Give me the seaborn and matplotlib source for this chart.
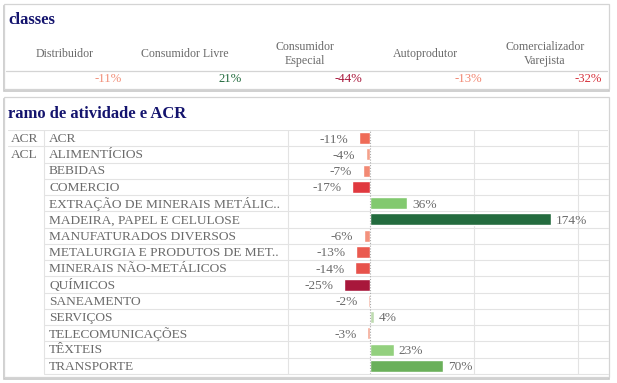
import matplotlib
matplotlib.use("Agg")
import matplotlib.pyplot as plt
import seaborn as sns
import pandas as pd
import numpy as np
from matplotlib.colors import LinearSegmentedColormap
from matplotlib.lines import Line2D
from matplotlib.patches import Rectangle

# ---------------- data ----------------
classes = ["Distribuidor", "Consumidor Livre", "Consumidor\nEspecial",
           "Autoprodutor", "Comercializador\nVarejista"]
classes_val = [-11, 21, -44, -13, -32]

grupos = ["ACR", "ACL", "", "", "", "", "", "", "", "", "", "", "", "", ""]
ramos = ["ACR", "ALIMENTÍCIOS", "BEBIDAS", "COMERCIO",
         "EXTRAÇÃO DE MINERAIS METÁLIC..", "MADEIRA, PAPEL E CELULOSE",
         "MANUFATURADOS DIVERSOS", "METALURGIA E PRODUTOS DE MET..",
         "MINERAIS NÃO-METÁLICOS", "QUÍMICOS", "SANEAMENTO", "SERVIÇOS",
         "TELECOMUNICAÇÕES", "TÊXTEIS", "TRANSPORTE"]
ramo_val = [-11, -4, -7, -17, 36, 174, -6, -13, -14, -25, -2, 4, -3, 23, 70]

# ---------------- styles ----------------
sns.set_theme(style="white")
plt.rcParams["font.family"] = ["Liberation Serif", "DejaVu Serif"]
TXT = "#6a6a6a"
TITLE = "#14146e"
GRID = "#e3e3e3"
BORDER = "#d4d4d4"
FS = 9.2
FS_ROW = 9.6

neg_cmap = LinearSegmentedColormap.from_list(
    "neg", [(0.0, "#f8c4b6"), (0.16, "#f4a08a"), (0.44, "#ef6b57"),
            (0.68, "#e0393f"), (1.0, "#a8173b")])
pos_cmap = LinearSegmentedColormap.from_list(
    "pos", [(0.0, "#c6dfba"), (0.03, "#b9d9ab"), (0.13, "#93d07e"),
            (0.2, "#82c96f"), (0.4, "#6ab05a"), (1.0, "#236b3e")])


def colour(v, vals):
    if v < 0:
        return neg_cmap(v / min(vals))
    return pos_cmap(v / max(vals))


W, H = 617, 383
fig = plt.figure(figsize=(W / 100, H / 100), dpi=100)
fig.patch.set_facecolor("white")


def fx(x):
    return x / W


def fy(y):
    return 1 - y / H


def hline(x0, x1, y, color=GRID, lw=0.8):
    fig.add_artist(Line2D([fx(x0), fx(x1)], [fy(y), fy(y)], color=color, lw=lw,
                          zorder=-5))


def box(x0, y0, x1, y1):
    fig.add_artist(Rectangle((fx(x0), fy(y1) - 0.004), fx(x1) - fx(x0), fy(y0) - fy(y1),
                             facecolor="none", edgecolor="#c8c8c8", lw=1.2, zorder=-10))
    fig.add_artist(Rectangle((fx(x0), fy(y1)), fx(x1) - fx(x0), fy(y0) - fy(y1),
                             facecolor="white", edgecolor=BORDER, lw=0.9, zorder=-9))


# ---------------- top panel ----------------
box(4, 4, 609, 89)
fig.text(fx(8), fy(20), "classes", color=TITLE, fontsize=12, fontweight="bold",
         va="center", ha="left")
col_w = 120
x_start = 5
for i, (c, v) in enumerate(zip(classes, classes_val)):
    cx = x_start + col_w * i + col_w / 2
    fig.text(fx(cx), fy(54), c, color=TXT, fontsize=8.6, ha="center", va="center",
             linespacing=1.3)
    fig.text(fx(x_start + col_w * (i + 1) - 3), fy(79), f"{v}%",
             color=colour(v, classes_val), fontsize=FS, ha="right", va="center")
hline(6, 607, 71, color=BORDER, lw=0.9)

# ---------------- bottom panel ----------------
box(4, 97, 609, 377)
fig.text(fx(8), fy(114), "ramo de atividade e ACR", color=TITLE, fontsize=12,
         fontweight="bold", va="center", ha="left")

top_px, bot_px = 130, 374
n = len(ramos)

# table (labels) axes
tab = fig.add_axes([fx(8), fy(bot_px), fx(608) - fx(8), fy(top_px) - fy(bot_px)])
tab.set_xlim(8, 608)
tab.set_ylim(n - 0.5, -0.5)
tab.axis("off")
tab.plot([8, 608], [-0.5, -0.5], color=GRID, lw=0.8)
tab.plot([8, 608], [0.5, 0.5], color=GRID, lw=0.8)
for i in range(1, n):
    tab.plot([44, 608], [i + 0.5, i + 0.5], color=GRID, lw=0.8, clip_on=False)
tab.plot([44, 44], [-0.5, n - 0.5], color=GRID, lw=0.8)
tab.plot([288, 288], [-0.5, n - 0.5], color=GRID, lw=0.8)
for i, (g, r) in enumerate(zip(grupos, ramos)):
    if g:
        tab.text(11, i + 0.05, g, color=TXT, fontsize=FS_ROW, va="center", ha="left")
    tab.text(49, i + 0.05, r, color=TXT, fontsize=FS_ROW, va="center", ha="left")

# bar axes
ax = fig.add_axes([fx(288), fy(bot_px), fx(608) - fx(288), fy(top_px) - fy(bot_px)])
ax.patch.set_alpha(0)
df = pd.DataFrame({"ramo": ramos, "valor": ramo_val})
pal = [colour(v, ramo_val) for v in ramo_val]
sns.barplot(data=df, x="valor", y="ramo", hue="ramo", palette=pal, legend=False,
            orient="h", width=0.74, ax=ax, saturation=1)
zero_px, px_per = 370, 1.04
ax.set_xlim(-(zero_px - 288) / px_per, (608 - zero_px) / px_per)
ax.set_ylim(n - 0.5, -0.5)
for xg in (100, 200):
    ax.axvline(xg, color=GRID, lw=0.8, zorder=0)
ax.axvline(0, color="#aaaaaa", lw=0.8, ls=(0, (1, 1.5)), zorder=3)
for s in ax.spines.values():
    s.set_visible(False)
ax.set_xticks([])
ax.set_yticks([])
ax.set_xlabel("")
ax.set_ylabel("")
for i, v in enumerate(ramo_val):
    if v < 0:
        ax.annotate(f"{v}%", (v, i), xytext=(-7.5, -1), textcoords="offset points",
                    ha="right", va="center", color=TXT, fontsize=FS_ROW)
    else:
        ax.annotate(f"{v}%", (v, i), xytext=(3.5, -1), textcoords="offset points",
                    ha="left", va="center", color=TXT, fontsize=FS_ROW)

fig.savefig("out.png", dpi=100, facecolor="white")
